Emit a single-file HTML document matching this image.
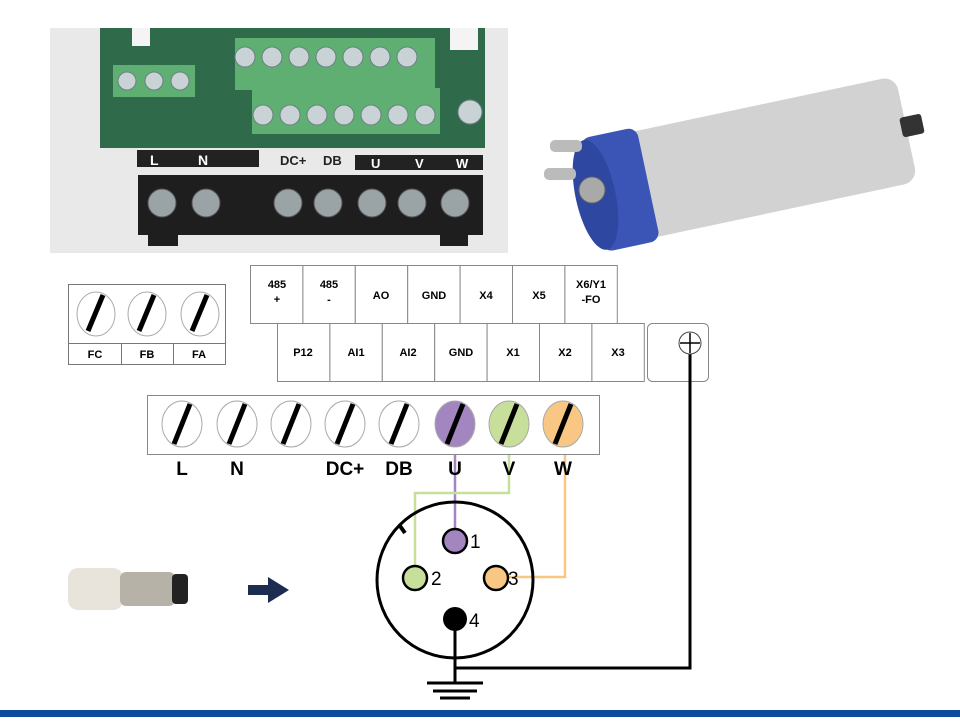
<!DOCTYPE html>
<html><head><meta charset="utf-8"><style>
html,body{margin:0;padding:0;background:#fff;}
svg{display:block;}
text{font-family:"Liberation Sans",sans-serif;font-weight:bold;}
</style></head><body>
<svg width="960" height="727" viewBox="0 0 960 727" xmlns="http://www.w3.org/2000/svg">
<rect width="960" height="727" fill="#fff"/>
<!-- top-left photo -->
<rect x="50" y="28" width="458" height="225" fill="#e9e9e9"/>
<rect x="100" y="28" width="385" height="120" fill="#2f6b4a"/>
<rect x="132" y="28" width="18" height="18" fill="#f4f4f4"/>
<rect x="450" y="28" width="28" height="22" fill="#f4f4f4"/>
<rect x="113" y="65" width="82" height="32" fill="#5fae72"/>
<g fill="#c9d2d4" stroke="#6b7f86"><circle cx="127" cy="81" r="9"/><circle cx="154" cy="81" r="9"/><circle cx="180" cy="81" r="9"/></g>
<rect x="235" y="38" width="200" height="52" fill="#5fae72"/>
<rect x="252" y="88" width="188" height="46" fill="#5fae72"/>
<g fill="#c9d2d4" stroke="#6b7f86">
<circle cx="245" cy="57" r="10"/><circle cx="272" cy="57" r="10"/><circle cx="299" cy="57" r="10"/><circle cx="326" cy="57" r="10"/><circle cx="353" cy="57" r="10"/><circle cx="380" cy="57" r="10"/><circle cx="407" cy="57" r="10"/>
<circle cx="263" cy="115" r="10"/><circle cx="290" cy="115" r="10"/><circle cx="317" cy="115" r="10"/><circle cx="344" cy="115" r="10"/><circle cx="371" cy="115" r="10"/><circle cx="398" cy="115" r="10"/><circle cx="425" cy="115" r="10"/>
<circle cx="470" cy="112" r="12"/></g>
<rect x="137" y="150" width="122" height="17" fill="#222"/>
<rect x="355" y="155" width="128" height="15" fill="#222"/>
<text x="150" y="165" font-size="14" fill="#fff">L</text><text x="198" y="165" font-size="14" fill="#fff">N</text>
<text x="280" y="165" font-size="13" fill="#222">DC+</text><text x="323" y="165" font-size="13" fill="#222">DB</text>
<text x="371" y="168" font-size="13" fill="#fff">U</text><text x="415" y="168" font-size="13" fill="#fff">V</text><text x="456" y="168" font-size="13" fill="#fff">W</text>
<rect x="138" y="175" width="345" height="60" fill="#1e1e1e"/>
<rect x="148" y="232" width="30" height="14" fill="#1e1e1e"/><rect x="440" y="232" width="28" height="14" fill="#1e1e1e"/>
<g fill="#9aa3a6" stroke="#555"><circle cx="162" cy="203" r="14"/><circle cx="206" cy="203" r="14"/><circle cx="288" cy="203" r="14"/><circle cx="328" cy="203" r="14"/><circle cx="372" cy="203" r="14"/><circle cx="412" cy="203" r="14"/><circle cx="455" cy="203" r="14"/></g>
<!-- spindle photo -->
<g transform="rotate(-12 750 162)">
<rect x="625" y="108" width="285" height="108" rx="14" fill="#d2d2d2"/>
<rect x="588" y="104" width="58" height="116" rx="10" fill="#3a55b5"/>
<ellipse cx="592" cy="162" rx="20" ry="56" fill="#2e47a0"/>
<rect x="905" y="150" width="22" height="20" rx="3" fill="#333"/>
</g>
<circle cx="592" cy="190" r="13" fill="#a9a9a9" stroke="#666"/>
<rect x="550" y="140" width="32" height="12" rx="5" fill="#bbb"/><rect x="544" y="168" width="32" height="12" rx="5" fill="#bbb"/>
<!-- FC FB FA -->
<rect x="68.5" y="284.5" width="157" height="80" fill="#fff" stroke="#777"/>
<line x1="68" y1="343.5" x2="225" y2="343.5" stroke="#777"/>
<line x1="121.5" y1="343" x2="121.5" y2="365" stroke="#777"/><line x1="173.5" y1="343" x2="173.5" y2="365" stroke="#777"/>
<g fill="#fff" stroke="#aaa"><ellipse cx="96" cy="314" rx="19" ry="22"/><ellipse cx="147" cy="314" rx="19" ry="22"/><ellipse cx="200" cy="314" rx="19" ry="22"/></g>
<g stroke="#000" stroke-width="5"><line x1="103" y1="295" x2="88" y2="331"/><line x1="154" y1="295" x2="139" y2="331"/><line x1="207" y1="295" x2="192" y2="331"/></g>
<g font-size="11" text-anchor="middle"><text x="95" y="358">FC</text><text x="147" y="358">FB</text><text x="199" y="358">FA</text></g>
<!-- upper row -->
<g fill="#fff" stroke="#888">
<rect x="250.5" y="265.5" width="52.4" height="58"/><rect x="302.9" y="265.5" width="52.4" height="58"/><rect x="355.3" y="265.5" width="52.4" height="58"/><rect x="407.7" y="265.5" width="52.4" height="58"/><rect x="460.1" y="265.5" width="52.4" height="58"/><rect x="512.5" y="265.5" width="52.4" height="58"/><rect x="564.9" y="265.5" width="52.4" height="58"/>
<rect x="277.5" y="323.5" width="52.4" height="58"/><rect x="329.9" y="323.5" width="52.4" height="58"/><rect x="382.3" y="323.5" width="52.4" height="58"/><rect x="434.7" y="323.5" width="52.4" height="58"/><rect x="487.1" y="323.5" width="52.4" height="58"/><rect x="539.5" y="323.5" width="52.4" height="58"/><rect x="591.9" y="323.5" width="52.4" height="58"/>
<rect x="647.5" y="323.5" width="61" height="58" rx="5"/>
</g>
<g font-size="11" text-anchor="middle">
<text x="277" y="288">485</text><text x="277" y="303">+</text>
<text x="329" y="288">485</text><text x="329" y="303">-</text>
<text x="381" y="299">AO</text><text x="434" y="299">GND</text><text x="486" y="299">X4</text><text x="539" y="299">X5</text>
<text x="591" y="288">X6/Y1</text><text x="591" y="303">-FO</text>
<text x="303" y="356">P12</text><text x="356" y="356">AI1</text><text x="408" y="356">AI2</text><text x="461" y="356">GND</text><text x="513" y="356">X1</text><text x="565" y="356">X2</text><text x="618" y="356">X3</text>
</g>
<!-- wires -->
<polyline points="455,445 455,530" fill="none" stroke="#a385c0" stroke-width="2.5"/>
<polyline points="509,445 509,493 415,493 415,566" fill="none" stroke="#c8df9c" stroke-width="2.5"/>
<polyline points="565,445 565,577 508,577" fill="none" stroke="#f8c784" stroke-width="2.5"/>
<polyline points="690,354 690,668 455,668" fill="none" stroke="#000" stroke-width="3"/>
<circle cx="690" cy="343" r="11" fill="#fff" stroke="#444"/>
<line x1="680" y1="343" x2="700" y2="343" stroke="#000" stroke-width="1.5"/><line x1="690" y1="333" x2="690" y2="353" stroke="#000" stroke-width="1.5"/>
<!-- power bar -->
<rect x="147.5" y="395.5" width="452" height="59" fill="#fff" stroke="#888"/>
<g stroke="#aaa"><ellipse cx="182" cy="424" rx="20" ry="23" fill="#fff"/><ellipse cx="237" cy="424" rx="20" ry="23" fill="#fff"/><ellipse cx="291" cy="424" rx="20" ry="23" fill="#fff"/><ellipse cx="345" cy="424" rx="20" ry="23" fill="#fff"/><ellipse cx="399" cy="424" rx="20" ry="23" fill="#fff"/>
<ellipse cx="455" cy="424" rx="20" ry="23" fill="#a385c0"/><ellipse cx="509" cy="424" rx="20" ry="23" fill="#c8df9c"/><ellipse cx="563" cy="424" rx="20" ry="23" fill="#f8c784"/></g>
<g stroke="#000" stroke-width="5">
<line x1="190" y1="404" x2="174" y2="444"/><line x1="245" y1="404" x2="229" y2="444"/><line x1="299" y1="404" x2="283" y2="444"/><line x1="353" y1="404" x2="337" y2="444"/><line x1="407" y1="404" x2="391" y2="444"/><line x1="463" y1="404" x2="447" y2="444"/><line x1="517" y1="404" x2="501" y2="444"/><line x1="571" y1="404" x2="555" y2="444"/></g>
<g font-size="19" text-anchor="middle"><text x="182" y="475">L</text><text x="237" y="475">N</text><text x="345" y="475">DC+</text><text x="399" y="475">DB</text><text x="455" y="475">U</text><text x="509" y="475">V</text><text x="563" y="475">W</text></g>
<!-- connector -->
<circle cx="455" cy="580" r="78" fill="none" stroke="#000" stroke-width="3"/>
<line x1="400" y1="526" x2="405" y2="533" stroke="#000" stroke-width="4"/>
<circle cx="455" cy="541" r="12" fill="#a385c0" stroke="#000" stroke-width="2.5"/>
<circle cx="415" cy="578" r="12" fill="#c8df9c" stroke="#000" stroke-width="2.5"/>
<circle cx="496" cy="578" r="12" fill="#f8c784" stroke="#000" stroke-width="2.5"/>
<circle cx="455" cy="619" r="12" fill="#000"/>
<line x1="455" y1="619" x2="455" y2="683" stroke="#000" stroke-width="3"/>
<g stroke="#000" stroke-width="3"><line x1="427" y1="683" x2="483" y2="683"/><line x1="433" y1="691" x2="477" y2="691"/><line x1="440" y1="698" x2="470" y2="698"/></g>
<g font-size="19"><text x="470" y="548" style="font-weight:normal">1</text><text x="431" y="585" style="font-weight:normal">2</text><text x="508" y="585" style="font-weight:normal">3</text><text x="469" y="627" style="font-weight:normal">4</text></g>
<!-- small plug photo -->
<rect x="68" y="568" width="55" height="42" rx="10" fill="#e8e4dc"/>
<rect x="120" y="572" width="55" height="34" rx="6" fill="#b7b2a8"/>
<rect x="172" y="574" width="16" height="30" rx="4" fill="#222"/>
<!-- arrow -->
<path d="M248,585 L268,585 L268,577 L289,590 L268,603 L268,595 L248,595 Z" fill="#1d2d52"/>
<!-- bottom bar -->
<rect x="0" y="710" width="960" height="7" fill="#0d4b9d"/>
</svg>
</body></html>
